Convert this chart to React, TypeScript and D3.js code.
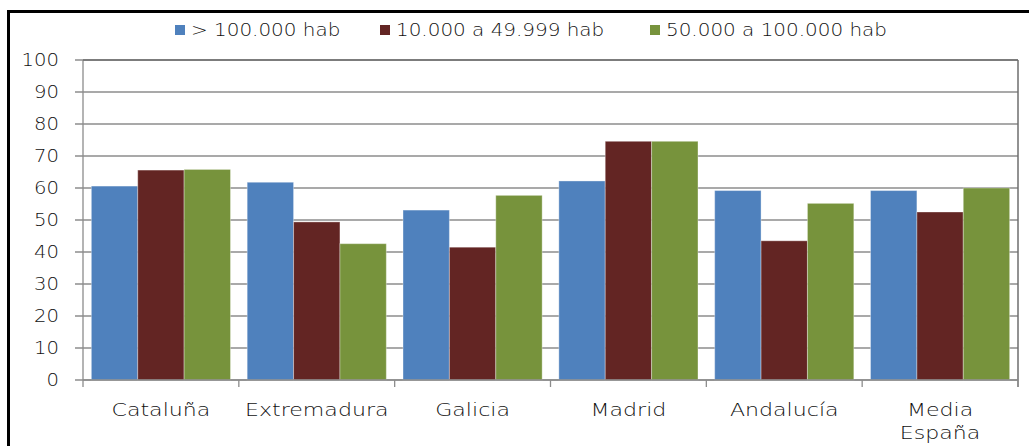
import React from "react";
import * as d3 from "d3";

const categories = ["Cataluña", "Extremadura", "Galicia", "Madrid", "Andalucía", "Media España"];
const seriesNames = ["> 100.000 hab", "10.000 a 49.999 hab", "50.000 a 100.000 hab"];
const serieMas100k = [60.6, 61.8, 53.1, 62.2, 59.2, 59.2];
const serie10a50k = [65.6, 49.4, 41.5, 74.6, 43.5, 52.5];
const serie50a100k = [65.8, 42.6, 57.7, 74.6, 55.2, 60.0];
const colors = ["#4F81BD", "#632523", "#77933C"];
const yTicks = [0, 10, 20, 30, 40, 50, 60, 70, 80, 90, 100];

const W = 1029;
const H = 446;
const plot = { left: 83, right: 1018, top: 60, bottom: 380 };
const FONT = "'DejaVu Sans', sans-serif";

function SText({ x, y, sx, anchor, size, children }: any) {
  return (
    <text
      transform={`translate(${x},${y}) scale(${sx},1)`}
      textAnchor={anchor}
      dominantBaseline="central"
      fontFamily={FONT}
      fontWeight={200}
      fontSize={size}
      fill="#111"
    >
      {children}
    </text>
  );
}

export default function App() {
  const series = [serieMas100k, serie10a50k, serie50a100k];
  const x0 = d3.scaleBand<string>().domain(categories).range([plot.left, plot.right]).padding(0);
  const x1 = d3
    .scaleBand<number>()
    .domain([0, 1, 2])
    .range([0, x0.bandwidth()])
    .paddingOuter(0.18)
    .paddingInner(0);
  const y = d3.scaleLinear().domain([0, 100]).range([plot.bottom, plot.top]);
  const grid = "#8c8c8c";

  const legendItems = [
    { sq: 175, tx: 191 },
    { sq: 380, tx: 396 },
    { sq: 650, tx: 666 },
  ];

  return (
    <svg width={W} height={H} style={{ position: "absolute", left: 0, top: 0, background: "#fff" }}>
      <rect x={0} y={0} width={W} height={H} fill="#fff" />
      {/* outer chart border */}
      <rect x={8.5} y={11.5} width={1100} height={500} fill="none" stroke="#000" strokeWidth={3} />

      {/* legend */}
      {seriesNames.map((n, i) => (
        <g key={n}>
          <rect x={legendItems[i].sq} y={25} width={10} height={10} fill={colors[i]} />
          <SText x={legendItems[i].tx} y={30} sx={1.14} anchor="start" size={17.5}>
            {n}
          </SText>
        </g>
      ))}

      {/* gridlines */}
      {yTicks.map((t) => (
        <g key={t}>
          <line x1={plot.left - 8} x2={plot.right} y1={y(t)} y2={y(t)} stroke={grid} strokeWidth={1.3} />
          <SText x={59} y={y(t)} sx={1.12} anchor="end" size={17.5}>
            {t}
          </SText>
        </g>
      ))}

      {/* bars */}
      {categories.map((c, ci) => (
        <g key={c} transform={`translate(${x0(c)},0)`}>
          {series.map((s, si) => (
            <rect
              key={si}
              x={x1(si)}
              y={y(s[ci])}
              width={x1.bandwidth()}
              height={y(0) - y(s[ci])}
              fill={colors[si]}
              stroke="rgba(255,255,255,0.35)"
              strokeWidth={1}
            />
          ))}
        </g>
      ))}

      {/* axes */}
      <line x1={plot.left} x2={plot.left} y1={plot.top} y2={plot.bottom} stroke={grid} strokeWidth={1.3} />
      <line x1={plot.right} x2={plot.right} y1={plot.top} y2={plot.bottom + 7} stroke="#6e6e6e" strokeWidth={1.5} />
      <line x1={plot.left} x2={plot.right} y1={plot.top} y2={plot.top} stroke="#6e6e6e" strokeWidth={1.3} />
      <line x1={plot.left} x2={plot.right} y1={plot.bottom} y2={plot.bottom} stroke={grid} strokeWidth={1.3} />
      {categories.map((c) => (
        <line
          key={"t" + c}
          x1={x0(c)!}
          x2={x0(c)!}
          y1={plot.bottom}
          y2={plot.bottom + 7}
          stroke={grid}
          strokeWidth={1.3}
        />
      ))}

      {/* category labels */}
      {categories.map((c) => {
        const cx = x0(c)! + x0.bandwidth() / 2;
        const words = c === "Media España" ? ["Media", "España"] : [c];
        return words.map((w, wi) => (
          <SText key={c + wi} x={cx} y={410 + wi * 23} sx={1.3} anchor="middle" size={17}>
            {w}
          </SText>
        ));
      })}
    </svg>
  );
}
